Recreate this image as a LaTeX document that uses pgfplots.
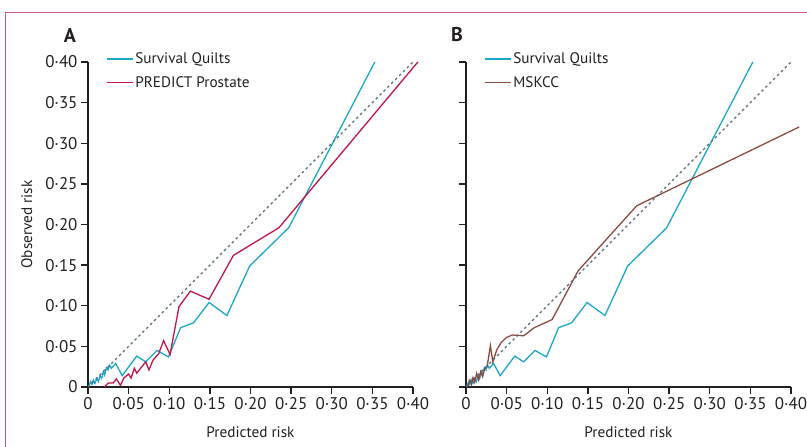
\documentclass[border=0pt]{standalone}
\usepackage{pgfplots}
\pgfplotsset{compat=1.18}
\usepackage{fontspec}
\setmainfont{PT Sans}

\definecolor{quilts}{HTML}{1BA6CA}
\definecolor{predict}{HTML}{C0144B}
\definecolor{mskcc}{HTML}{8C4B40}
\definecolor{diag}{HTML}{56697A}
\definecolor{framecol}{HTML}{D0587E}
\definecolor{axisgray}{HTML}{231F20}

\pgfplotsset{
  calib/.style={
    scale only axis,
    width=325bp, height=325bp,
    xmin=0, xmax=0.4, ymin=0, ymax=0.4,
    axis lines=left,
    axis line style={axisgray, line width=1.3pt, -},
    tick style={axisgray, line width=1.3pt},
    tick align=outside,
    major tick length=7bp,
    xtick={0,0.05,0.1,0.15,0.2,0.25,0.3,0.35,0.4},
    ytick={0,0.05,0.1,0.15,0.2,0.25,0.3,0.35,0.4},
    xticklabels={0,0·05,0·10,0·15,0·20,0·25,0·30,0·35,0·40},
    ticklabel style={font=\fontsize{17}{19}\selectfont, text=axisgray},
    label style={font=\fontsize{15.3}{18}\selectfont, text=axisgray},
    xlabel={Predicted risk},
    xlabel style={at={(axis description cs:0.5,-0.138)}, anchor=center},
    ylabel style={at={(axis description cs:-0.188,0.5)}, anchor=center},
    clip=false,
    legend cell align=left,
    legend style={draw=none, fill=none, inner sep=0pt,
      font=\fontsize{15.3}{18}\selectfont, text=axisgray,
      row sep=7bp,
      at={(axis description cs:0.055,1.035)}, anchor=north west},
    legend image code/.code={\draw[#1] (0bp,0bp) -- (26bp,0bp);},
  }
}

\begin{document}
\begin{tikzpicture}
\path[use as bounding box] (0,0) rectangle (807bp,447bp);
\draw[framecol, line width=1pt] (5bp,0) -- (5bp,434bp) -- (807bp,434bp);

% Panel A
\begin{axis}[calib, at={(88bp,60bp)}, anchor=south west,
  yticklabels={0,0·05,0·10,0·15,0·20,0·25,0·30,0·35,0·40},
  ylabel={Observed risk}]
\addplot[quilts, line width=1.3pt] coordinates {
(0.001,0.001)(0.0033,0.0066)(0.0049,0.0033)(0.0066,0.0086)(0.0086,0.0045)
(0.0107,0.0107)(0.0127,0.0066)(0.0148,0.0139)(0.0168,0.0107)(0.0189,0.0189)
(0.0205,0.0148)(0.0226,0.0238)(0.0246,0.0209)(0.0263,0.027)(0.0287,0.023)
(0.034,0.029)(0.042,0.014)(0.060,0.038)(0.071,0.031)(0.085,0.045)(0.099,0.037)
(0.114,0.073)(0.130,0.079)(0.149,0.104)(0.171,0.088)(0.199,0.149)(0.247,0.196)
(0.353,0.400)};
\addlegendentry{Survival Quilts}
\addplot[predict, line width=1.3pt] coordinates {
(0.020,0)(0.025,0.005)(0.031,0.005)(0.035,0.010)(0.040,0.002)(0.044,0.011)
(0.050,0.016)(0.053,0.011)(0.057,0.023)(0.060,0.017)(0.071,0.031)(0.075,0.021)
(0.080,0.033)(0.087,0.041)(0.093,0.057)(0.101,0.040)(0.112,0.099)(0.126,0.118)
(0.149,0.108)(0.179,0.162)(0.235,0.196)(0.406,0.400)};
\addlegendentry{PREDICT Prostate}
\addplot[diag, line width=1.3pt, dash pattern=on 2.5bp off 3bp, forget plot] coordinates {(0,0)(0.4,0.4)};
\end{axis}
\node[font=\bfseries\fontsize{20}{22}\selectfont, text=axisgray] at (70bp,412bp) {A};

% Panel B
\begin{axis}[calib, at={(466bp,60bp)}, anchor=south west,
  yticklabels={}]
\addplot[quilts, line width=1.3pt] coordinates {
(0.001,0.001)(0.0033,0.0066)(0.0049,0.0033)(0.0066,0.0086)(0.0086,0.0045)
(0.0107,0.0107)(0.0127,0.0066)(0.0148,0.0139)(0.0168,0.0107)(0.0189,0.0189)
(0.0205,0.0148)(0.0226,0.0238)(0.0246,0.0209)(0.0263,0.027)(0.0287,0.023)
(0.034,0.029)(0.042,0.014)(0.060,0.038)(0.071,0.031)(0.085,0.045)(0.099,0.037)
(0.114,0.073)(0.130,0.079)(0.149,0.104)(0.171,0.088)(0.199,0.149)(0.247,0.196)
(0.353,0.400)};
\addlegendentry{Survival Quilts}
\addplot[mskcc, line width=1.3pt] coordinates {
(0.0025,0.0012)(0.0049,0.0086)(0.0066,0.0033)(0.0086,0.0115)(0.0107,0.0057)
(0.0131,0.0168)(0.0156,0.0086)(0.018,0.0189)(0.0205,0.0127)(0.023,0.023)
(0.026,0.025)(0.030,0.051)(0.033,0.031)(0.038,0.046)(0.0435,0.055)(0.050,0.061)
(0.057,0.064)(0.071,0.063)(0.084,0.073)(0.106,0.083)(0.138,0.143)(0.210,0.223)
(0.247,0.241)(0.410,0.320)};
\addlegendentry{MSKCC}
\addplot[diag, line width=1.3pt, dash pattern=on 2.5bp off 3bp, forget plot] coordinates {(0,0)(0.4,0.4)};
\end{axis}
\node[font=\bfseries\fontsize{20}{22}\selectfont, text=axisgray] at (457bp,412bp) {B};
\end{tikzpicture}
\end{document}
